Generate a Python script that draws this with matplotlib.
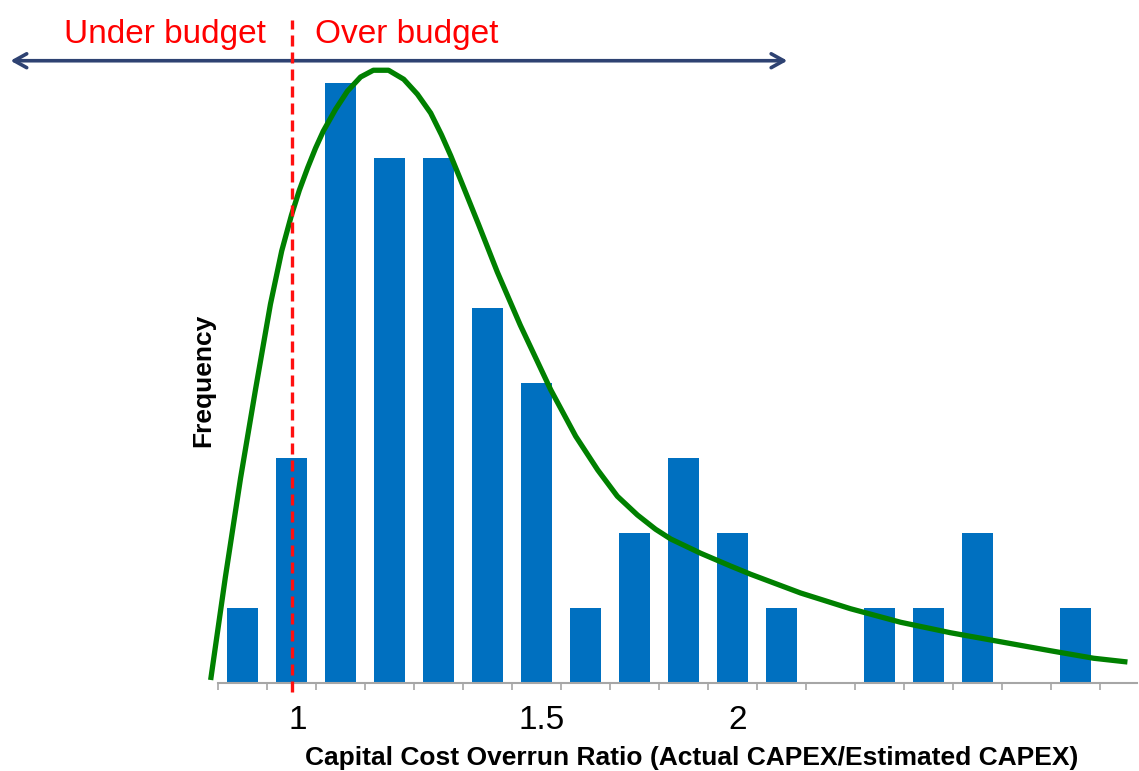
import matplotlib.pyplot as plt

plt.rcParams['font.family'] = ['Liberation Sans', 'DejaVu Sans']

# histogram of capital cost overrun ratio
bin_centers = [0.9, 1.0, 1.1, 1.2, 1.3, 1.4, 1.5, 1.6, 1.7, 1.8,
               1.9, 2.0, 2.1, 2.2, 2.3, 2.4, 2.5, 2.6]
counts = [1, 3, 8, 7, 7, 5, 4, 1, 2, 3, 2, 1, 0, 1, 1, 2, 0, 1]

# fitted curve, points
curve_x = [0.835, 0.865, 0.896, 0.927, 0.957, 0.980, 1.000, 1.016, 1.033,
           1.049, 1.065, 1.090, 1.114, 1.141, 1.167, 1.198, 1.229, 1.257,
           1.284, 1.306, 1.325, 1.345, 1.382, 1.420, 1.467, 1.529, 1.580,
           1.625, 1.665, 1.706, 1.743, 1.774, 1.835, 1.896, 1.937, 2.039,
           2.141, 2.243, 2.345, 2.447, 2.549, 2.637, 2.706]
curve_y = [0.04, 1.41, 2.73, 3.93, 5.05, 5.76, 6.24, 6.57, 6.87,
           7.13, 7.36, 7.65, 7.89, 8.08, 8.17, 8.17, 8.05, 7.85,
           7.60, 7.31, 7.03, 6.71, 6.11, 5.48, 4.77, 3.91, 3.29,
           2.84, 2.49, 2.24, 2.05, 1.92, 1.73, 1.56, 1.45, 1.20,
           0.99, 0.81, 0.67, 0.55, 0.43, 0.33, 0.28]

tick_pos = [1.012, 1.51, 1.91]
tick_labels = ['1', '1.5', '2']

fig = plt.figure(figsize=(11.39, 7.71), dpi=100)
ax = fig.add_axes([218 / 1139, 88 / 771, 919 / 1139, 645 / 771])

ax.bar(bin_centers, counts, width=0.065, color='#0070C0', zorder=2)
ax.plot(curve_x, curve_y, color='#008000', lw=3.8, zorder=3, clip_on=False,
        solid_joinstyle='round', solid_capstyle='butt')

# budget boundary
ax.plot([1.0, 1.0], [-0.12, 8.84], color='#FF1010', lw=2.4,
        linestyle=(0, (3.3, 1.8)), zorder=4, clip_on=False)

ax.annotate('', xy=(0.4265, 8.297), xytext=(2.012, 8.297),
            arrowprops=dict(arrowstyle='<->,head_length=0.9,head_width=0.5',
                            color='#2E4272', lw=2.6, shrinkA=0, shrinkB=0),
            annotation_clip=False)
ax.text(0.741, 8.64, 'Under budget', color='#FF0000', fontsize=24,
        ha='center', va='center', clip_on=False)
ax.text(1.2347, 8.64, 'Over budget', color='#FF0000', fontsize=24,
        ha='center', va='center', clip_on=False)

ax.set_xlim(0.85, 0.85 + 919 / 490)
ax.set_ylim(0, 8.6)

edges = [c - 0.05 for c in bin_centers] + [bin_centers[-1] + 0.05]
ax.set_xticks(edges, minor=True)
ax.set_xticks(tick_pos)
ax.set_xticklabels(tick_labels, fontsize=24)
ax.tick_params(axis='x', which='minor', length=5, width=1.2, color='#A6A6A6')
ax.tick_params(axis='x', which='major', length=0, pad=16)
ax.set_yticks([])

for s in ['left', 'right', 'top']:
    ax.spines[s].set_visible(False)
ax.spines['bottom'].set_color('#A6A6A6')
ax.spines['bottom'].set_linewidth(1.5)

fig.text(203 / 1139, 1 - 380 / 771, 'Frequency', rotation=90, fontsize=19,
         fontweight='bold', ha='center', va='center')
fig.text(692 / 1139, 1 - 765 / 771,
         'Capital Cost Overrun Ratio (Actual CAPEX/Estimated CAPEX)',
         fontsize=19, fontweight='bold', ha='center', va='baseline')

plt.savefig('out.png', dpi=100, facecolor='white')
